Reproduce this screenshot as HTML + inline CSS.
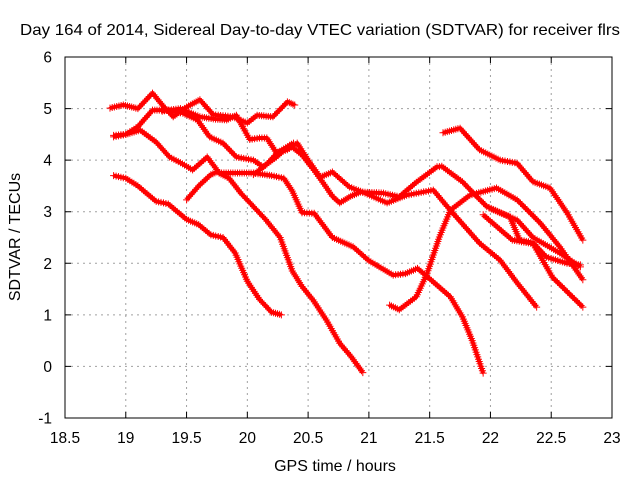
<!DOCTYPE html>
<html><head><meta charset="utf-8"><style>
body{margin:0;background:#fff}
svg{display:block;font-family:"Liberation Sans",sans-serif}
</style></head><body>
<svg id="chart" width="640" height="480" xmlns="http://www.w3.org/2000/svg">
<rect width="640" height="480" fill="#fff"/>
<text x="320" y="35" font-size="16" text-anchor="middle" textLength="600" lengthAdjust="spacingAndGlyphs">Day 164 of 2014, Sidereal Day-to-day VTEC variation (SDTVAR) for receiver flrs</text>
<g id="grid"></g>
<g id="series"></g>
<rect x="65" y="57" width="547" height="361" fill="none" stroke="#000" stroke-width="1"/>
<g id="ticks"></g>
<text x="335" y="471" font-size="16" text-anchor="middle">GPS time / hours</text>
<text x="20" y="237" font-size="16" text-anchor="middle" transform="rotate(-90 20 237)">SDTVAR / TECUs</text>
</svg>
<script>
const xTicks=[18.5,19,19.5,20,20.5,21,21.5,22,22.5,23];
const xTickLabels=["18.5","19","19.5","20","20.5","21","21.5","22","22.5","23"];
const yTicks=[-1,0,1,2,3,4,5,6];
const yTickLabels=["-1","0","1","2","3","4","5","6"];
const sA_x=[18.9,19.0,19.1,19.25,19.35,19.5,19.6,19.7,19.8,19.9,20.0,20.1,20.2,20.28];
const sA_y=[3.7,3.65,3.5,3.2,3.15,2.85,2.75,2.55,2.5,2.2,1.65,1.3,1.05,1.0];
const sB_x=[19.5,19.6,19.7,19.75,19.85,19.95,20.05,20.15,20.27,20.37,20.45,20.54,20.65,20.76,20.85,20.95];
const sB_y=[3.23,3.5,3.72,3.77,3.65,3.35,3.1,2.85,2.5,1.85,1.55,1.29,0.9,0.45,0.2,-0.12];
const sC_x=[18.9,19.0,19.12,19.25,19.36,19.45,19.55,19.67,19.77,19.9,20.05,20.2,20.3,20.37,20.45,20.55,20.7,20.87,21.0,21.2,21.3,21.4,21.5,21.67,21.77,21.85,21.94];
const sC_y=[4.48,4.5,4.58,4.35,4.06,3.95,3.81,4.06,3.75,3.75,3.75,3.7,3.65,3.4,2.98,2.97,2.5,2.32,2.05,1.77,1.8,1.9,1.7,1.35,0.96,0.5,-0.13];
const sE_x=[20.05,20.15,20.25,20.38];
const sE_y=[3.72,3.9,4.15,4.33];
const sF_x=[18.87,18.98,19.1,19.22,19.3,19.39,19.5,19.61,19.72,19.88,20.0,20.08,20.21,20.33,20.39];
const sF_y=[5.01,5.07,5.0,5.3,5.07,4.84,5.03,5.17,4.88,4.84,4.72,4.87,4.84,5.13,5.07];
const sG_x=[18.9,19.0,19.1,19.22,19.35,19.47,19.59,19.69,19.8,19.91,20.05,20.13,20.24,20.35,20.45,20.55,20.62,20.7,20.76,20.85,20.93,21.12,21.25,21.39,21.56,21.6,21.77,21.86,21.97,22.16,22.24,22.35,22.46,22.63,22.74];
const sG_y=[4.45,4.5,4.65,4.97,4.97,4.91,4.78,4.45,4.33,4.06,4.0,3.87,4.06,4.29,4.1,3.8,3.57,3.3,3.17,3.3,3.38,3.36,3.29,3.57,3.87,3.88,3.58,3.36,3.1,2.9,2.45,2.4,2.12,2.0,1.97];
const sH_x=[19.3,19.45,19.61,19.72,19.83,19.91,19.96,20.02,20.1,20.16,20.24,20.33,20.41,20.5,20.6,20.7,20.84,20.95,21.15,21.31,21.53,21.67,21.91,22.08,22.22,22.38];
const sH_y=[4.95,5.0,4.84,4.8,4.78,4.87,4.65,4.4,4.43,4.43,4.14,4.2,4.33,4.0,3.67,3.77,3.48,3.38,3.17,3.32,3.42,3.03,2.39,2.06,1.62,1.15];
const sI_x=[21.17,21.25,21.39,21.48,21.58,21.67,21.83,22.05,22.22,22.41,22.57,22.76];
const sI_y=[1.19,1.1,1.35,1.81,2.51,3.03,3.32,3.46,3.23,2.78,2.32,1.68];
const sJ_x=[21.94,22.18,22.35,22.51,22.76];
const sJ_y=[2.94,2.45,2.38,1.73,1.15];
const sK_x=[21.99,22.22,22.35,22.57,22.74];
const sK_y=[3.07,2.84,2.5,2.2,1.93];
const sL_x=[21.61,21.75,21.91,22.08,22.22,22.35,22.49,22.63,22.76];
const sL_y=[4.53,4.62,4.2,4.0,3.94,3.58,3.46,2.98,2.45];
const seriesX=[sA_x,sB_x,sC_x,sE_x,sF_x,sG_x,sH_x,sI_x,sJ_x,sK_x,sL_x];
const seriesY=[sA_y,sB_y,sC_y,sE_y,sF_y,sG_y,sH_y,sI_y,sJ_y,sK_y,sL_y];

const NS="http://www.w3.org/2000/svg";
const X0=65,X1=612,Y0=418,Y1=57;
function xs(v){return X0+(v-18.5)/(23-18.5)*(X1-X0);}
function ys(v){return Y0-(v-(-1))/(6-(-1))*(Y0-Y1);}
function mk(tag,attrs,parent){const e=document.createElementNS(NS,tag);for(const k in attrs)e.setAttribute(k,attrs[k]);parent.appendChild(e);return e;}
const grid=document.getElementById('grid'),ticks=document.getElementById('ticks'),ser=document.getElementById('series');
xTicks.forEach((t,i)=>{
  const x=xs(t);
  if(i>0&&i<xTicks.length-1){const g=mk('line',{x1:x,x2:x,y1:Y1,y2:Y0,stroke:'#a0a0a0','stroke-dasharray':'2,4'},grid);
  
  }
  const tk=mk('path',{d:`M${x},${Y0}v-6M${x},${Y1}v6`,stroke:'#000'},ticks);
  
  
  const l=mk('text',{x:x,y:443,'font-size':15.5,'text-anchor':'middle'},ticks);l.textContent=xTickLabels[i];
  
  
});
yTicks.forEach((t,i)=>{
  const y=ys(t);
  if(i>0&&i<yTicks.length-1){const g=mk('line',{x1:X0,x2:X1,y1:y,y2:y,stroke:'#a0a0a0','stroke-dasharray':'2,4'},grid);
  
  }
  const tk=mk('path',{d:`M${X0},${y}h6M${X1},${y}h-6`,stroke:'#000'},ticks);
  
  
  const l=mk('text',{x:52,y:y+5.5,'font-size':15.5,'text-anchor':'end'},ticks);l.textContent=yTickLabels[i];
  
  
});
seriesX.forEach((sx,si)=>{
  const sy=seriesY[si];
  const g=mk('g',{},ser);
  
  
  let pts=sx.map((v,i)=>[xs(v),ys(sy[i])]);
  const line=mk('polyline',{points:pts.map(p=>p.join(',')).join(' '),fill:'none',stroke:'#f00','stroke-width':4,'stroke-linejoin':'round'},g);
  
  
  let d='';
  for(let i=0;i<pts.length-1;i++){
    const [ax,ay]=pts[i],[bx,by]=pts[i+1];
    const n=Math.max(1,Math.ceil(Math.hypot(bx-ax,by-ay)/2.5));
    for(let k=0;k<n;k++){const x=ax+(bx-ax)*k/n,y=ay+(by-ay)*k/n;d+=`M${(x-3.5).toFixed(1)},${y.toFixed(1)}h7M${x.toFixed(1)},${(y-3.5).toFixed(1)}v7`;}
  }
  const l=pts[pts.length-1];d+=`M${l[0]-3.5},${l[1]}h7M${l[0]},${l[1]-3.5}v7`;
  const m=mk('path',{d:d,stroke:'#f00','stroke-width':1,fill:'none'},g);
  
  
});
</script>
</body></html>
